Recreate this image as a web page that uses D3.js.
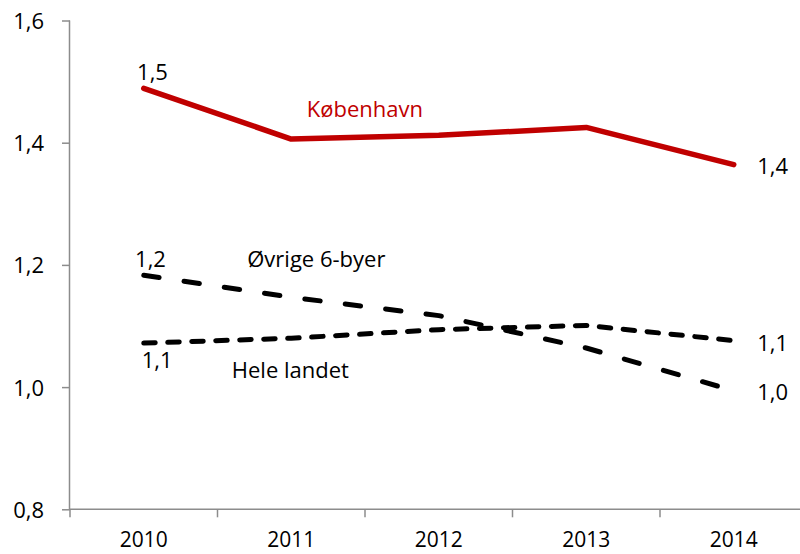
<!DOCTYPE html>
<html>
<head>
<meta charset="utf-8">
<script src="https://cdn.jsdelivr.net/npm/d3@7"></script>
<style>
  html, body { margin: 0; padding: 0; background: #fff; }
  svg { display: block; font-family: "Open Sans", "Noto Sans", sans-serif; }
</style>
</head>
<body>
<svg id="chart" width="800" height="554"></svg>
<script>
// ---- data ----
const years = ["2010", "2011", "2012", "2013", "2014"];
const kobenhavn = [1.489, 1.406, 1.412, 1.425, 1.364];
const ovrige = [1.183, 1.147, 1.117, 1.064, 0.994];
const heleLandet = [1.072, 1.080, 1.094, 1.101, 1.076];
const yTicks = [0.8, 1.0, 1.2, 1.4, 1.6];
const seriesNames = ["København", "Øvrige 6-byer", "Hele landet"];

// ---- layout ----
const svg = d3.select("#chart");
const x = d3.scaleBand().domain(years).range([70, 807.5]).padding(0);
const xc = d => x(d) + x.bandwidth() / 2;
const y = d3.scaleLinear().domain([0.8, 1.6]).range([509.3, 20.5]);
const fmt = v => d3.format(".1f")(v).replace(".", ",");
const axisColor = "#8c8c8c";

// y axis
const yAxis = svg.append("g").attr("transform", "translate(70,0)")
  .call(d3.axisLeft(y).tickValues(yTicks).tickSize(8).tickPadding(18).tickFormat(fmt));
yAxis.select(".domain").attr("stroke", axisColor).attr("stroke-width", 1.5)
  .attr("d", `M-0.5,${y(1.6)}V${y(0.8)}`);
yAxis.selectAll(".tick line").attr("stroke", axisColor).attr("stroke-width", 1.5);
yAxis.selectAll(".tick text").attr("font-size", 22).attr("fill", "#000")
  .attr("font-family", "Open Sans").attr("dy", "0.36em");

// x axis (ticks at category boundaries, Excel-style)
const xg = svg.append("g").attr("transform", `translate(0,${y(0.8)})`);
xg.append("line").attr("x1", 70).attr("x2", 800).attr("y1", 0).attr("y2", 0)
  .attr("stroke", axisColor).attr("stroke-width", 1.5);
const bounds = years.map(d => x(d)).concat([x.range()[1]]);
xg.selectAll("line.tk").data(bounds).join("line").attr("class", "tk")
  .attr("x1", d => d).attr("x2", d => d).attr("y1", 0).attr("y2", 8)
  .attr("stroke", axisColor).attr("stroke-width", 1.5);
xg.selectAll("text.yl").data(years).join("text").attr("class", "yl")
  .attr("x", d => xc(d)).attr("y", 38).attr("text-anchor", "middle")
  .attr("font-size", 21).attr("fill", "#000").text(d => d);

// lines
const line = d3.line().x((d, i) => xc(years[i])).y(d => y(d));
const series = [
  { name: seriesNames[0], values: kobenhavn, color: "#C00000", width: 5.5, dash: null },
  { name: seriesNames[1], values: ovrige, color: "#000", width: 5, dash: "15.5,25.2" },
  { name: seriesNames[2], values: heleLandet, color: "#000", width: 5, dash: "11.5,12.5" }
];
svg.selectAll("path.series").data(series).join("path").attr("class", "series")
  .attr("d", s => line(s.values)).attr("fill", "none")
  .attr("stroke", s => s.color).attr("stroke-width", s => s.width)
  .attr("stroke-linecap", "round").attr("stroke-linejoin", "round")
  .attr("stroke-dasharray", s => s.dash);

// data labels (first and last points)
const dataLabels = [
  { s: 0, i: 0, dx: -6.7, dy: -8 },
  { s: 0, i: 4, dx: 23.5, dy: 9.6 },
  { s: 1, i: 0, dx: -8.7, dy: -8.4 },
  { s: 1, i: 4, dx: 23.5, dy: 9.3 },
  { s: 2, i: 0, dx: -2, dy: 25.3 },
  { s: 2, i: 4, dx: 23.5, dy: 10.5 }
];
svg.selectAll("text.dl").data(dataLabels).join("text").attr("class", "dl")
  .attr("x", d => xc(years[d.i]) + d.dx)
  .attr("y", d => y(series[d.s].values[d.i]) + d.dy)
  .attr("font-size", 22).attr("fill", "#000")
  .text(d => fmt(series[d.s].values[d.i]));

// series name labels
const nameLabels = [
  { s: 0, i: 1, dx: 15.5, dy: -22, color: "#C00000" },
  { s: 1, i: 1, dx: -44, dy: -30.5, color: "#000" },
  { s: 2, i: 1, dx: -59.5, dy: 40, color: "#000" }
];
svg.selectAll("text.nl").data(nameLabels).join("text").attr("class", "nl")
  .attr("x", d => xc(years[d.i]) + d.dx)
  .attr("y", d => y(series[d.s].values[d.i]) + d.dy)
  .attr("font-size", 22).attr("fill", d => d.color)
  .text(d => series[d.s].name);
</script>
</body>
</html>
